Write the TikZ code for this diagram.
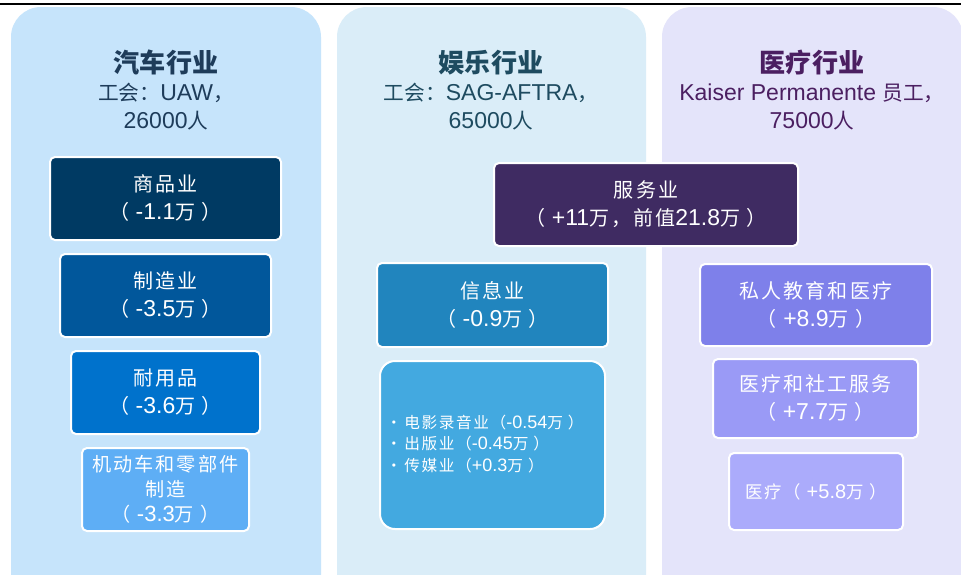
\documentclass[tikz,border=0pt]{standalone}
\usepackage{fontspec}
\setmainfont{Liberation Sans}
\newfontfamily\cjk{Noto Sans CJK SC}[Scale=0.9]
\newfontfamily\cjks{Noto Sans CJK SC}[Scale=0.87, LetterSpace=10]
\newcommand\zh[1]{{\cjk #1}}
\newcommand\zs[1]{{\cjks #1}}
\definecolor{panelA}{HTML}{C6E4FB}
\definecolor{panelB}{HTML}{DAEDF8}
\definecolor{panelC}{HTML}{E4E4FA}
\definecolor{boxA}{HTML}{003A63}
\definecolor{boxB}{HTML}{01579B}
\definecolor{boxC}{HTML}{0072CC}
\definecolor{boxD}{HTML}{5EAEF5}
\definecolor{serv}{HTML}{3F2B62}
\definecolor{info}{HTML}{2185BE}
\definecolor{media}{HTML}{43A9E0}
\definecolor{priv}{HTML}{7E80EA}
\definecolor{soc}{HTML}{9A9AF6}
\definecolor{med}{HTML}{ABABFB}
\definecolor{titA}{HTML}{1E3C5A}
\definecolor{titB}{HTML}{1E4B60}
\definecolor{titC}{HTML}{4B1F61}
\begin{document}
\begin{tikzpicture}[x=1pt,y=-1pt,
  panel/.style={rounded corners=30pt, draw=none},
  ttl/.style={align=center, font=\fontsize{23}{28}\selectfont, inner sep=0pt},
  box/.style={draw=white, line width=2pt, rounded corners=5pt, text=white,
    align=center, inner sep=0pt, font=\fontsize{23}{28}\selectfont}]
\useasboundingbox (0,0) rectangle (961,574);
\clip (0,0) rectangle (961,574);
\fill[white] (0,0) rectangle (961,574);
% panels
\fill[panelA, panel] (11,7) rectangle (321,620);
\fill[panelB, panel] (337,7) rectangle (646,620);
\fill[panelC, panel] (662,7) rectangle (963,620);
% top rule
\draw[black, line width=2pt] (0,3.5) -- (961,3.5);
% titles
\node[ttl, text=titA] (tA) at (166,90) {{\bfseries\fontsize{29}{28}\selectfont\zh{汽车行业}}\\\zh{工会：}UAW\zh{，}\\26000\zh{人}};
\node[ttl, text=titB] (tB) at (491,90) {{\bfseries\fontsize{29}{28}\selectfont\zh{娱乐行业}}\\\zh{工会：}SAG-AFTRA\zh{，}\\65000\zh{人}};
\node[ttl, text=titC] (tC) at (812,90) {{\bfseries\fontsize{29}{28}\selectfont\zh{医疗行业}}\\Kaiser Permanente \zh{员工，}\\75000\zh{人}};
% left boxes
\node[box, fill=boxA, minimum width=231pt, minimum height=83pt] (b1) at (165.5,198.5) {\zs{商品业}\\\zs{（} -1.1\zs{万} \zs{）}};
\node[box, fill=boxB, minimum width=211pt, minimum height=83pt] (b2) at (165.5,295.5) {\zs{制造业}\\\zs{（} -3.5\zs{万} \zs{）}};
\node[box, fill=boxC, minimum width=189pt, minimum height=83pt] (b3) at (165.5,392.5) {\zs{耐用品}\\\zs{（} -3.6\zs{万} \zs{）}};
\node[box, fill=boxD, minimum width=167pt, minimum height=83pt, font=\fontsize{22}{25}\selectfont] (b4) at (165.5,489.5) {\zs{机动车和零部件}\\\zs{制造}\\\zs{（} -3.3\zs{万} \zs{）}};
% middle
\node[box, fill=serv, minimum width=304pt, minimum height=83pt] (sv) at (646,204.5) {\zs{服务业}\\\zs{（} +11\zs{万，前值}21.8\zs{万} \zs{）}};
\node[box, fill=info, minimum width=231pt, minimum height=84pt] (inf) at (492.5,305) {\zs{信息业}\\\zs{（} -0.9\zs{万} \zs{）}};
\node[box, fill=media, rounded corners=15pt, minimum width=225pt, minimum height=168pt] (md) at (492.5,445) {};
\node[anchor=west, align=left, text=white, inner sep=0pt, font=\fontsize{18}{21.5}\selectfont] (mdt) at (386,444)
 {\zs{·\,电影录音业（}-0.54\zs{万} \zs{）}\\\zs{·\,出版业（}-0.45\zs{万} \zs{）}\\\zs{·\,传媒业（}+0.3\zs{万} \zs{）}};
% right
\node[box, fill=priv, minimum width=232pt, minimum height=82pt] (pv) at (816,305) {\zs{私人教育和医疗}\\\zs{（} +8.9\zs{万} \zs{）}};
\node[box, fill=soc, minimum width=205pt, minimum height=79pt] (sc) at (815.5,398.5) {\zs{医疗和社工服务}\\\zs{（} +7.7\zs{万} \zs{）}};
\node[box, fill=med, minimum width=174pt, minimum height=77pt, font=\fontsize{20}{25}\selectfont] (mc) at (816,491.5) {\zs{医疗（} +5.8\zs{万} \zs{）}};
\end{tikzpicture}
\end{document}
